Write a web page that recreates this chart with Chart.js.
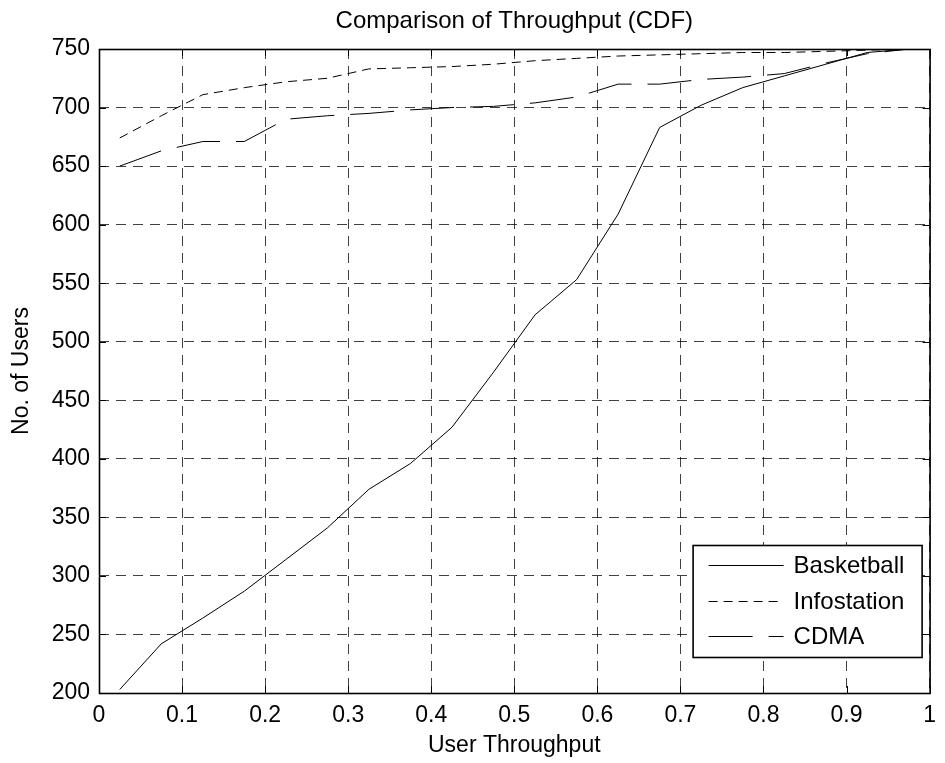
<!DOCTYPE html>
<html>
<head>
<meta charset="utf-8">
<script src="https://cdn.jsdelivr.net/npm/chart.js@4.4.1/dist/chart.umd.min.js"></script>
<style>
html,body{margin:0;padding:0;background:#fff;}
#wrap{width:945px;height:763px;position:relative;}
canvas{display:block;}
</style>
</head>
<body>
<div id="wrap"><canvas id="c" width="945" height="763"></canvas></div>
<script>
// ---- data ----
const throughput = [0.025,0.075,0.125,0.175,0.225,0.275,0.325,0.375,0.425,0.475,0.525,0.575,0.625,0.675,0.725,0.775,0.825,0.875,0.925,0.975];
const basketball = [203,242,264,287,314,341,374,396,427,474,523,553,609,683,702,717,727,737,747,750];
const infostation = [674,693,711,717,722,725,733,734,735,737,740,742,744,745,746,747,747,748,749,750];
const cdma = [650,663,671,671,690,693,695,698,700,701,704,709,720,720,724,726,729,738,746,750];
const seriesNames = ['Basketball','Infostation','CDMA'];
const xTickLabels = ['0','0.1','0.2','0.3','0.4','0.5','0.6','0.7','0.8','0.9','1'];
const yTickLabels = ['200','250','300','350','400','450','500','550','600','650','700','750'];
const chartTitle = 'Comparison of Throughput (CDF)';
const xTitle = 'User Throughput';
const yTitle = 'No. of Users';

const FONT = "'Liberation Sans', Arial, Helvetica, sans-serif";
const GRID_DASH = [10,7];
const toPts = ys => throughput.map((x,i)=>({x:x,y:ys[i]}));

// title centred over the plot area (as in the reference)
const titlePlugin = {
  id:'plotTitle',
  afterDraw(chart){
    const {ctx, chartArea:a} = chart;
    ctx.save();
    ctx.fillStyle='#000';
    ctx.font='24px '+FONT;
    ctx.textAlign='center';
    ctx.textBaseline='middle';
    ctx.fillText(chartTitle,(a.left+a.right)/2,a.top-28);
    ctx.restore();
  }
};

const framePlugin = {
  id:'frame',
  afterDatasetsDraw(chart){
    const {ctx, chartArea:a, scales} = chart;
    ctx.save();
    ctx.strokeStyle='#000';
    ctx.lineWidth=1;
    ctx.setLineDash([]);
    const tl = 7;
    ctx.beginPath();
    scales.x.ticks.forEach(t=>{
      const px = Math.round(scales.x.getPixelForValue(t.value))+0.5;
      ctx.moveTo(px,a.bottom); ctx.lineTo(px,a.bottom-tl);
      ctx.moveTo(px,a.top); ctx.lineTo(px,a.top+tl);
    });
    scales.y.ticks.forEach(t=>{
      const py = Math.round(scales.y.getPixelForValue(t.value))+0.5;
      ctx.moveTo(a.left,py); ctx.lineTo(a.left+tl,py);
      ctx.moveTo(a.right,py); ctx.lineTo(a.right-tl,py);
    });
    ctx.stroke();
    ctx.lineWidth=1.6;
    ctx.strokeRect(a.left+0.5,a.top+0.5,a.right-a.left,a.bottom-a.top);
    ctx.restore();
  }
};

const legendPlugin = {
  id:'boxLegend',
  afterDraw(chart){
    const {ctx, chartArea:a} = chart;
    const x0 = a.right-237, x1 = a.right-8, y0 = a.bottom-148, y1 = a.bottom-36;
    ctx.save();
    ctx.fillStyle='#fff';
    ctx.fillRect(x0,y0,x1-x0,y1-y0);
    ctx.strokeStyle='#000';
    ctx.lineWidth=1.6;
    ctx.setLineDash([]);
    ctx.strokeRect(x0+0.5,y0+0.5,x1-x0,y1-y0);
    chart.data.datasets.forEach((ds,i)=>{
      const y = Math.round(y0+20+i*35.5)+0.5;
      ctx.lineWidth=1;
      ctx.setLineDash(ds.borderDash||[]);
      ctx.beginPath();
      ctx.moveTo(x0+16,y); ctx.lineTo(x0+91,y);
      ctx.stroke();
      ctx.setLineDash([]);
      ctx.fillStyle='#000';
      ctx.font='24px '+FONT;
      ctx.textAlign='left';
      ctx.textBaseline='middle';
      ctx.fillText(ds.label,x0+101,y+1);
    });
    ctx.restore();
  }
};

const mkDs = (label, ys, dash) => ({
  label: label, data: toPts(ys), borderColor:'#000', backgroundColor:'#000',
  borderWidth:1, borderDash:dash, pointRadius:0, tension:0, fill:false
});

new Chart(document.getElementById('c'), {
  type:'line',
  data:{ datasets:[
    mkDs(seriesNames[0], basketball, []),
    mkDs(seriesNames[1], infostation, [9,6]),
    mkDs(seriesNames[2], cdma, [44,16])
  ]},
  options:{
    responsive:false,
    animation:false,
    devicePixelRatio:1,
    layout:{padding:{left:0,right:12,top:49,bottom:0}},
    plugins:{
      legend:{display:false},
      tooltip:{enabled:false},
      title:{display:false}
    },
    scales:{
      x:{type:'linear',min:0,max:1,
        afterFit(s){ s.height = 70; },
        ticks:{stepSize:0.1,color:'#000',padding:9,maxRotation:0,autoSkip:false,
          font:{family:FONT,size:23},
          callback:(v,i)=>xTickLabels[i]},
        grid:{color:'rgba(0,0,0,0.75)',lineWidth:1,drawTicks:false},
        border:{display:false,dash:GRID_DASH},
        title:{display:true,text:xTitle,color:'#000',font:{family:FONT,size:23},padding:{top:0,bottom:4}}
      },
      y:{type:'linear',min:200,max:750,
        afterFit(s){ s.width = 99; },
        ticks:{stepSize:50,color:'#000',padding:9,autoSkip:false,
          font:{family:FONT,size:23},
          callback:(v,i)=>yTickLabels[i]},
        grid:{color:'rgba(0,0,0,0.75)',lineWidth:1,drawTicks:false},
        border:{display:false,dash:GRID_DASH},
        title:{display:true,text:yTitle,color:'#000',font:{family:FONT,size:23},padding:{top:8,bottom:0}}
      }
    }
  },
  plugins:[framePlugin, legendPlugin, titlePlugin]
});
</script>
</body>
</html>
